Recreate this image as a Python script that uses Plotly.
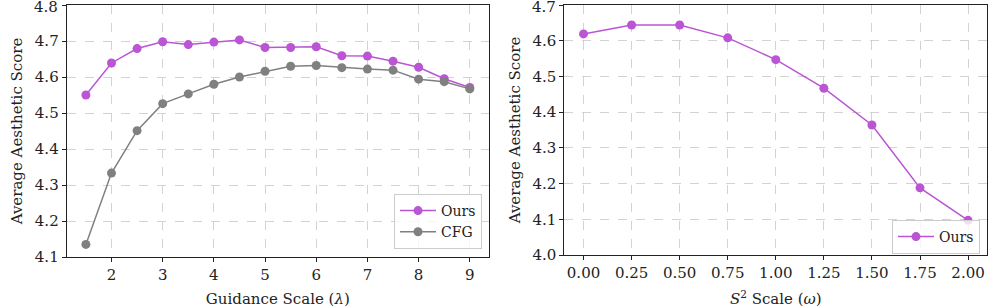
import plotly.graph_objects as go
from plotly.subplots import make_subplots

# left panel: guidance scale sweep
guidance = [1.5, 2, 2.5, 3, 3.5, 4, 4.5, 5, 5.5, 6, 6.5, 7, 7.5, 8, 8.5, 9]
ours_g = [4.550, 4.639, 4.679, 4.698, 4.690, 4.697, 4.703, 4.682, 4.682, 4.684,
          4.659, 4.658, 4.644, 4.627, 4.595, 4.571]
cfg_g = [4.135, 4.333, 4.451, 4.526, 4.553, 4.580, 4.600, 4.616, 4.630, 4.632,
         4.626, 4.622, 4.619, 4.594, 4.587, 4.567]

# right panel: S^2 scale sweep
s2 = [0.0, 0.25, 0.5, 0.75, 1.0, 1.25, 1.5, 1.75, 2.0]
ours_s2 = [4.619, 4.644, 4.644, 4.608, 4.547, 4.467, 4.364, 4.188, 4.097]

x1_ticks = [2, 3, 4, 5, 6, 7, 8, 9]
y1_ticks = [4.1, 4.2, 4.3, 4.4, 4.5, 4.6, 4.7, 4.8]
x2_ticks = [0.0, 0.25, 0.5, 0.75, 1.0, 1.25, 1.5, 1.75, 2.0]
y2_ticks = [4.0, 4.1, 4.2, 4.3, 4.4, 4.5, 4.6, 4.7]

PURPLE = '#BA55D3'
GRAY = '#808080'
W, H = 997, 308
FONT = 'DejaVu Serif'
FS = 15
X1_DOM = [66.7 / W, 489 / W]
X2_DOM = [564.3 / W, 987.3 / W]

fig = make_subplots(rows=1, cols=2)

fig.add_trace(go.Scatter(x=guidance, y=ours_g, name='Ours', mode='lines+markers',
                         line=dict(color=PURPLE, width=1.5),
                         marker=dict(color=PURPLE, size=9), legend='legend'),
              row=1, col=1)
fig.add_trace(go.Scatter(x=guidance, y=cfg_g, name='CFG', mode='lines+markers',
                         line=dict(color=GRAY, width=1.5),
                         marker=dict(color=GRAY, size=9), legend='legend'),
              row=1, col=1)
fig.add_trace(go.Scatter(x=s2, y=ours_s2, name='Ours', mode='lines+markers',
                         line=dict(color=PURPLE, width=1.5),
                         marker=dict(color=PURPLE, size=9), legend='legend2'),
              row=1, col=2)

axis_common = dict(showline=True, linecolor='#222', linewidth=1, mirror=True,
                   ticks='outside', ticklen=4, tickcolor='#222',
                   showgrid=True, gridcolor='#d3d3d3', griddash='dash', gridwidth=1,
                   zeroline=False, automargin=False,
                   tickfont=dict(family=FONT, size=FS, color='#222'),
                   title_font=dict(family=FONT, size=FS, color='#222'))

fig.update_xaxes(axis_common)
fig.update_yaxes(axis_common)

fig.update_xaxes(domain=X1_DOM, range=[1.125, 9.375], tickvals=x1_ticks,
                 title_text='Guidance Scale (<i>λ</i>)', title_standoff=12, row=1, col=1)
fig.update_yaxes(domain=[1 - 257 / H, 1 - 5 / H], range=[4.1, 4.8], tickvals=y1_ticks,
                 tickformat='.1f', title_text='Average Aesthetic Score', title_standoff=8,
                 row=1, col=1)
fig.update_xaxes(domain=X2_DOM, range=[-0.1, 2.1], tickvals=x2_ticks,
                 tickformat='.2f', title_text='<i>S</i><sup>2</sup> Scale (<i>ω</i>)',
                 title_standoff=12, row=1, col=2)
fig.update_yaxes(domain=[1 - 255 / H, 1 - 5 / H], range=[4.0, 4.7], tickvals=y2_ticks,
                 tickformat='.1f', title_text='Average Aesthetic Score', title_standoff=8,
                 row=1, col=2)

# plotly drops the top tick label because it touches the page edge; put it back
for xd, yref, val in [(X1_DOM, 'y', y1_ticks[-1]), (X2_DOM, 'y2', y2_ticks[-1])]:
    fig.add_annotation(x=xd[0] - 6.5 / W, xref='paper', y=val, yref=yref,
                       text=f'{val:.1f}', showarrow=False, xanchor='right', yanchor='middle',
                       yshift=-2, font=dict(family=FONT, size=FS, color='#222'))

legend_common = dict(bgcolor='rgba(255,255,255,0.8)', bordercolor='#cccccc', borderwidth=1,
                     font=dict(family=FONT, size=14, color='#222'),
                     xanchor='right', yanchor='bottom', itemwidth=36)
fig.update_layout(
    width=W, height=H,
    margin=dict(l=0, r=0, t=0, b=0),
    paper_bgcolor='white', plot_bgcolor='white',
    font=dict(family=FONT, size=FS, color='#222'),
    legend=dict(legend_common, x=482 / W, y=1 - 249 / H),
    legend2=dict(legend_common, x=980 / W, y=1 - 254 / H),
)

# page body has an 8px default margin; drop it so the figure fills the window
fig.write_html('out.html', config={'displayModeBar': False},
               post_script="document.body.style.margin='0';")
